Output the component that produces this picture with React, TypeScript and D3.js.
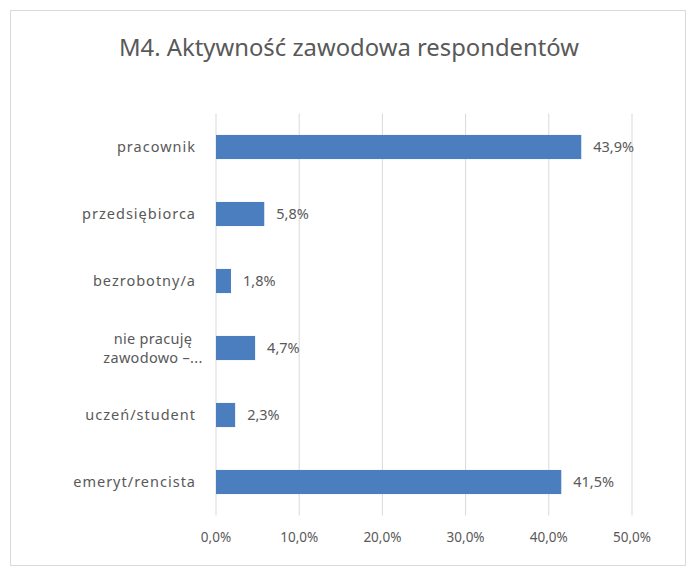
import React from "react";
import * as d3 from "d3";

const categories: string[] = [
  "pracownik",
  "przedsiębiorca",
  "bezrobotny/a",
  "nie pracuję zawodowo –...",
  "uczeń/student",
  "emeryt/rencista",
];
const values: number[] = [43.9, 5.8, 1.8, 4.7, 2.3, 41.5];
const labelLines: string[][] = [
  ["pracownik"],
  ["przedsiębiorca"],
  ["bezrobotny/a"],
  ["nie pracuję", "zawodowo –..."],
  ["uczeń/student"],
  ["emeryt/rencista"],
];
const ticks: number[] = [0, 10, 20, 30, 40, 50];
const title = "M4. Aktywność zawodowa respondentów";

const W = 698;
const H = 571;
const FONT = "'Noto Sans', 'Open Sans', sans-serif";
const TEXT = "#595959";

const fmt = (v: number) => v.toFixed(1).replace(".", ",") + "%";

export default function App() {
  const x = d3.scaleLinear().domain([0, 50]).range([216, 632]);
  const y = d3
    .scaleBand<string>()
    .domain(categories)
    .range([113.5, 515.5])
    .paddingInner(0.64)
    .paddingOuter(0.32);

  return (
    <svg
      width={W}
      height={H}
      style={{ position: "absolute", left: 0, top: 0, background: "#fff" }}
      fontFamily={FONT}
    >
      <rect x={10.5} y={10.5} width={675} height={555} fill="#fff" stroke="#d9d9d9" />
      <text
        x={349}
        y={56}
        textAnchor="middle"
        fontSize={23}
        fill={TEXT}
        textLength={460}
        lengthAdjust="spacingAndGlyphs"
      >
        {title}
      </text>
      {ticks.map((t) => (
        <g key={t}>
          <line x1={x(t)} x2={x(t)} y1={113.5} y2={515.5} stroke="#d9d9d9" />
          <text x={x(t)} y={542} textAnchor="middle" fontSize={13.5} fill={TEXT}>
            {fmt(t)}
          </text>
        </g>
      ))}
      {categories.map((c, i) => {
        const yc = (y(c) as number) + y.bandwidth() / 2;
        const lines = labelLines[i];
        return (
          <g key={c}>
            <rect
              x={x(0)}
              y={y(c)}
              width={x(values[i]) - x(0)}
              height={y.bandwidth()}
              fill="#4a7ebf"
            />
            <text
              x={x(values[i]) + 12}
              y={yc}
              dy="0.35em"
              fontSize={14.5}
              fill={TEXT}
            >
              {fmt(values[i])}
            </text>
            {lines.length === 1 ? (
              <text x={196} y={yc} dy="0.35em" textAnchor="end" fontSize={14.5} fill={TEXT} letterSpacing={1}>
                {lines[0]}
              </text>
            ) : (
              lines.map((l, k) => (
                <text
                  key={k}
                  x={153}
                  y={yc + (k - 0.5) * 19}
                  dy="0.35em"
                  textAnchor="middle"
                  fontSize={14.5}
                  fill={TEXT}
                  letterSpacing={0.3}
                >
                  {l}
                </text>
              ))
            )}
          </g>
        );
      })}
    </svg>
  );
}
